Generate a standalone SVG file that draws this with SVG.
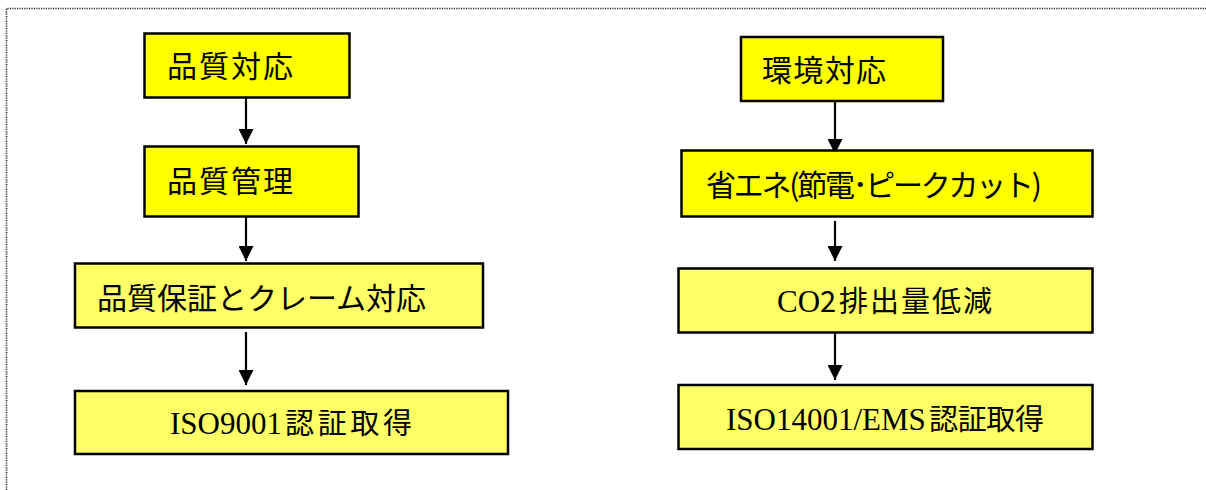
<svg xmlns="http://www.w3.org/2000/svg" width="1206" height="490" viewBox="0 0 1206 490">
<defs>
<style>
.frame{fill:none;stroke:#222;stroke-width:1.6;stroke-dasharray:1.2 1.2}
.b1{fill:#ffff00;stroke:#000;stroke-width:2.5}
.b2{fill:#ffff66;stroke:#000;stroke-width:2.5}
.t{font-family:"Noto Sans CJK JP","Noto Sans",sans-serif;font-size:30px;fill:#000}
.s{font-family:"Liberation Serif","Noto Sans CJK JP",serif;font-size:31px;fill:#000}
.c{font-family:"Noto Sans CJK JP",sans-serif;font-size:29px}
.ln{stroke:#000;stroke-width:2.2;fill:none}
</style>
<marker id="ah" markerWidth="15" markerHeight="15" viewBox="0 0 15 15" refX="15" refY="7.5" orient="auto" markerUnits="userSpaceOnUse">
<path d="M0,0 L15,7.5 L0,15 Z" fill="#000"/>
</marker>
</defs>
<path class="frame" d="M6.5,490 V8.5 H1206"/>
<g id="connectors">
<line class="ln" x1="246" y1="97" x2="246" y2="144" marker-end="url(#ah)"/>
<line class="ln" x1="246" y1="217" x2="246" y2="261" marker-end="url(#ah)"/>
<line class="ln" x1="246" y1="332" x2="246" y2="385" marker-end="url(#ah)"/>
<line class="ln" x1="835" y1="101" x2="835" y2="154" marker-end="url(#ah)"/>
<line class="ln" x1="835" y1="221" x2="835" y2="261" marker-end="url(#ah)"/>
<line class="ln" x1="835" y1="332" x2="835" y2="380" marker-end="url(#ah)"/>
</g>
<g id="n1"><rect class="b1" x="144.5" y="33.5" width="205" height="64"/><text class="t" x="167" y="77" textLength="126">品質対応</text></g>
<g id="n2"><rect class="b1" x="144.5" y="146.5" width="214" height="70"/><text class="t" x="167" y="192" textLength="126">品質管理</text></g>
<g id="n3"><rect class="b2" x="75" y="263.5" width="408" height="64"/><text class="t" x="97" y="309" textLength="329">品質保証とクレーム対応</text></g>
<g id="n4"><rect class="b2" x="75" y="391" width="433" height="63"/><text class="s" x="170" y="434">ISO9001<tspan class="c" x="285" textLength="127">認証取得</tspan></text></g>
<g id="n5"><rect class="b1" x="741" y="37" width="202" height="64"/><text class="t" x="762" y="81" textLength="124">環境対応</text></g>
<g id="n6"><rect class="b1" x="681.5" y="150.5" width="411" height="66"/><text class="t" x="706" y="196" textLength="336">省エネ(節電･ピークカット)</text></g>
<g id="n7"><rect class="b2" x="678.5" y="268.5" width="414" height="64"/><text class="s" x="777" y="312">CO<tspan class="c">2</tspan><tspan class="c" x="839" textLength="153">排出量低減</tspan></text></g>
<g id="n8"><rect class="b2" x="678.5" y="385" width="414" height="64"/><text class="s" x="726" y="430">ISO14001/EMS<tspan class="c" x="929" textLength="115">認証取得</tspan></text></g>
</svg>
